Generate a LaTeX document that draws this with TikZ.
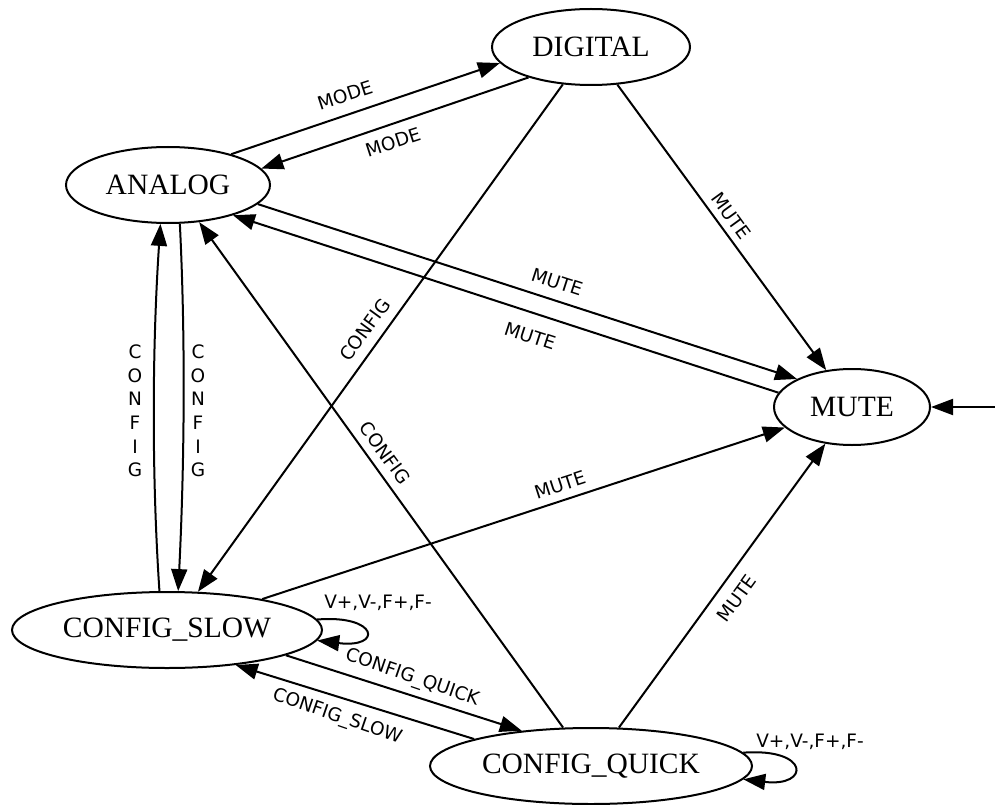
\documentclass[tikz,border=0pt]{standalone}
\usepackage{fontspec}
\setmainfont{Liberation Serif}
\newfontfamily\edgefont{DejaVu Sans}
\usetikzlibrary{shapes.geometric,arrows.meta}
\begin{document}
\begin{tikzpicture}[x=1pt,y=-1pt,
  state/.style={ellipse,draw,line width=2pt,inner sep=0pt,
    font=\fontsize{29.5}{35}\selectfont},
  edge/.style={line width=2pt,-{Triangle[length=22pt,width=16pt]}},
  elabel/.style={inner sep=0pt,font=\edgefont\fontsize{18.5}{23.6}\selectfont}]
\useasboundingbox (0,0) rectangle (995,805);

% states
\node[state,minimum width=198pt,minimum height=76pt] (dig) at (591,47) {DIGITAL};
\node[state,minimum width=204pt,minimum height=76pt] (ana) at (168,185) {ANALOG};
\node[state,minimum width=156pt,minimum height=76pt] (mute) at (852,407) {MUTE};
\node[state,minimum width=310pt,minimum height=76pt] (cs) at (167,630) {CONFIG\_SLOW};
\node[state,minimum width=322pt,minimum height=76pt] (cq) at (591,766) {CONFIG\_QUICK};

% initial transition
\coordinate (init) at (995,407);
\draw[edge] (init) -- (mute.east);

% ANALOG <-> DIGITAL
\draw[edge] (ana.26.6) -- (dig.190);
\node[elabel,rotate=18] (lmode1) at (345,95) {MODE};
\draw[edge] (dig.206.9) -- (ana.10.3);
\node[elabel,rotate=18] (lmode2) at (393,142) {MODE};

% DIGITAL -> MUTE / CONFIG_SLOW
\draw[edge] (dig.305.4) -- (mute.125.5);
\node[elabel,rotate=-54] (lmute1) at (731,216) {MUTE};
\draw[edge] (dig.233.6) -- (cs.51);
\node[elabel,rotate=54] (lcfg1) at (365,330) {CONFIG};

% ANALOG <-> MUTE
\draw[edge] (ana.348) -- (mute.153.9);
\node[elabel,rotate=-18] (lmute2) at (557,282) {MUTE};
\draw[edge] (mute.169) -- (ana.335.9);
\node[elabel,rotate=-18] (lmute3) at (530,336) {MUTE};

% ANALOG <-> CONFIG_SLOW
\draw[edge] (ana.287.5) .. controls +(6,120) and +(6,-120) .. (cs.74.9);
\node[elabel,align=center] (lcfg2) at (198,411) {C\\O\\N\\F\\I\\G};
\draw[edge] (cs.101.9) .. controls +(-8,-120) and +(-8,120) .. (ana.259.6);
\node[elabel,align=center] (lcfg3) at (135,411) {C\\O\\N\\F\\I\\G};

% CONFIG_SLOW -> MUTE
\draw[edge] (cs.18.4) -- (mute.197.9);
\node[elabel,rotate=18] (lmute4) at (560,485) {MUTE};

% CONFIG_QUICK -> ANALOG / MUTE
\draw[edge] (cq.126.4) -- (ana.310.9);
\node[elabel,rotate=-54] (lcfg4) at (385,453) {CONFIG};
\draw[edge] (cq.54.6) -- (mute.234.6);
\node[elabel,rotate=54] (lmute5) at (737,598) {MUTE};

% CONFIG_SLOW <-> CONFIG_QUICK
\draw[edge] (cs.348.3) -- (cq.153.8);
\node[elabel,rotate=-19] (lcq) at (412,678) {CONFIG\_QUICK};
\draw[edge] (cq.167.9) -- (cs.333.8);
\node[elabel,rotate=-19] (lcs) at (337,717) {CONFIG\_SLOW};

% self loops
\draw[edge] (cs.4.9) .. controls +(61,-5) and +(66,8) .. (cs.-4.7);
\node[elabel] (lloop1) at (378,603) {V+,V-,F+,F-};
\draw[edge] (cq.5) .. controls +(67,-5) and +(67,8) .. (cq.-5.4);
\node[elabel] (lloop2) at (810,742) {V+,V-,F+,F-};
\end{tikzpicture}
\end{document}
